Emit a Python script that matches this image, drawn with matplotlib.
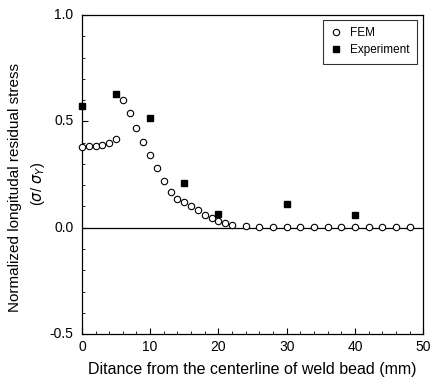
import matplotlib
matplotlib.use("Agg")
import matplotlib.pyplot as plt
from matplotlib.ticker import MultipleLocator

plt.rcParams['font.family'] = ['Liberation Sans', 'DejaVu Sans']

fem_x = [0, 1, 2, 3, 4, 5, 6, 7, 8, 9, 10, 11, 12, 13, 14, 15, 16, 17, 18, 19, 20, 21, 22,
         24, 26, 28, 30, 32, 34, 36, 38, 40, 42, 44, 46, 48]
fem_y = [0.38, 0.385, 0.386, 0.39, 0.397, 0.416, 0.60, 0.54, 0.47, 0.405, 0.34, 0.28, 0.22,
         0.166, 0.137, 0.119, 0.103, 0.081, 0.061, 0.045, 0.03, 0.022, 0.015,
         0.01, 0.005, 0.005, 0.005, 0.005, 0.005, 0.005, 0.005, 0.005, 0.005, 0.005, 0.005, 0.005]
exp_x = [0, 5, 10, 15, 20, 30, 40]
exp_y = [0.572, 0.63, 0.514, 0.212, 0.064, 0.111, 0.058]

fig = plt.figure(figsize=(4.45, 3.84), dpi=100)
ax = fig.add_axes([0.184, 0.130, 0.767, 0.831])

ax.axhline(0, color='black', lw=0.9, zorder=1)
ax.plot(fem_x, fem_y, linestyle='none', marker='o', markersize=4.6, markerfacecolor='white',
        markeredgecolor='black', markeredgewidth=0.8, label='FEM', clip_on=False, zorder=3)
ax.plot(exp_x, exp_y, linestyle='none', marker='s', markersize=4, color='black',
        label='Experiment', clip_on=False, zorder=4)

ax.set_xlim(0, 50)
ax.set_ylim(-0.5, 1.0)
ax.xaxis.set_major_locator(MultipleLocator(10))
ax.xaxis.set_minor_locator(MultipleLocator(2))
ax.yaxis.set_major_locator(MultipleLocator(0.5))
ax.yaxis.set_minor_locator(MultipleLocator(0.1))
ax.tick_params(which='both', direction='in', labelsize=10)
ax.tick_params(which='major', length=4, width=0.8)
ax.tick_params(which='minor', length=2, width=0.6)
ax.set_yticklabels([])
for sp in ax.spines.values():
    sp.set_linewidth(0.9)

# tick labels
for v in [-0.5, 0.0, 0.5, 1.0]:
    ax.text(-0.025, (v + 0.5) / 1.5, f"{v:.1f}", transform=ax.transAxes,
            ha='right', va='center', fontsize=10)
ax.set_xticks([0, 10, 20, 30, 40, 50])
ax.set_xticklabels(['0', '10', '20', '30', '40', '50'])
ax.tick_params(axis='x', pad=4)

ax.set_xlabel('Ditance from the centerline of weld bead (mm)', fontsize=11.5, labelpad=6)
fig.text(0.034, 1 - 188 / 384, 'Normalized longitudal residual stress', rotation=90,
         ha='center', va='center', fontsize=11)
fig.text(0.085, 1 - 184 / 384, r'($\sigma$/ $\sigma$$_{Y}$)', rotation=90,
         ha='center', va='center', fontsize=10.5)

leg = ax.legend(loc='upper right', fontsize=8.5, frameon=True, fancybox=False,
                edgecolor='black', handletextpad=0.7, borderpad=0.6, borderaxespad=0,
                bbox_to_anchor=(0.982, 0.984), handlelength=1.0, labelspacing=0.45)
leg.get_frame().set_linewidth(0.8)

fig.savefig('out.png', dpi=100)
